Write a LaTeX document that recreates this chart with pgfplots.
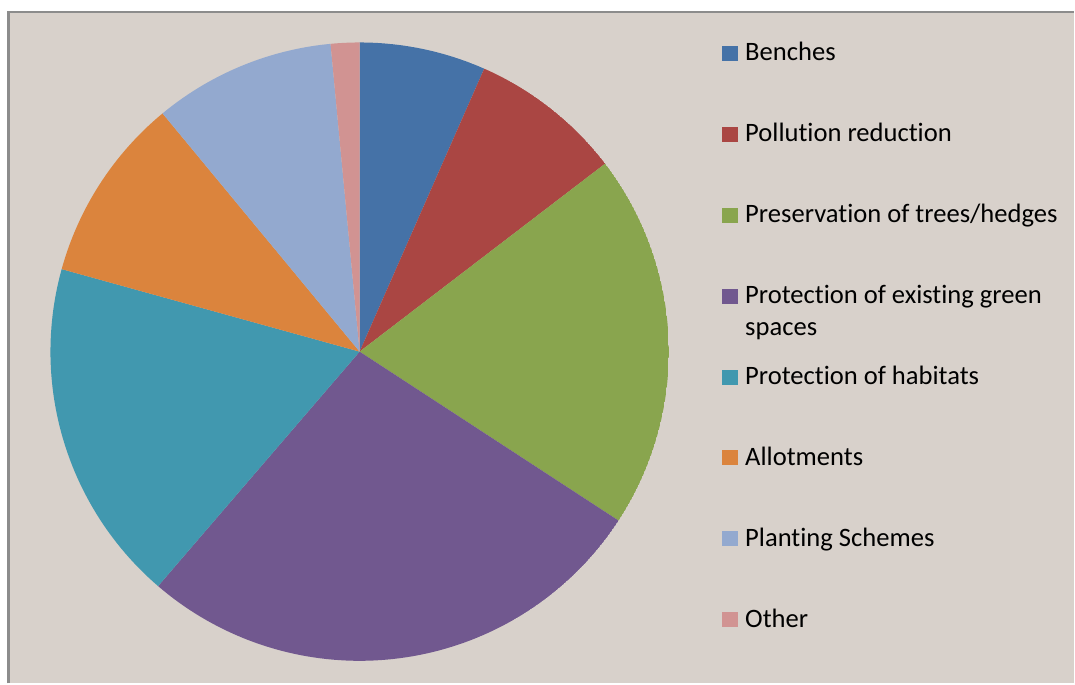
\documentclass[border=0pt]{standalone}
\usepackage{fontspec}
\setmainfont{Carlito}[Ligatures={NoCommon}]
\usepackage{pgfplots}
\pgfplotsset{compat=1.18}
\usepgfplotslibrary{polar}
\definecolor{bg}{HTML}{D8D1CB}
\definecolor{frame}{HTML}{8C8C8C}
\definecolor{cBen}{HTML}{4572A7}
\definecolor{cPol}{HTML}{AA4643}
\definecolor{cTre}{HTML}{89A54E}
\definecolor{cGre}{HTML}{71588F}
\definecolor{cHab}{HTML}{4198AF}
\definecolor{cAll}{HTML}{DB843D}
\definecolor{cPla}{HTML}{93A9CF}
\definecolor{cOth}{HTML}{D19392}
\begin{document}
\begin{tikzpicture}
% shares in percent
\pgfmathsetmacro\aA{90}
\pgfmathsetmacro\aB{\aA-3.6*6.6}  % Benches
\pgfmathsetmacro\aC{\aB-3.6*8.0}  % Pollution reduction
\pgfmathsetmacro\aD{\aC-3.6*19.6} % Preservation of trees/hedges
\pgfmathsetmacro\aE{\aD-3.6*27.1} % Protection of existing green spaces
\pgfmathsetmacro\aF{\aE-3.6*18.0} % Protection of habitats
\pgfmathsetmacro\aG{\aF-3.6*9.7}  % Allotments
\pgfmathsetmacro\aH{\aG-3.6*9.5}  % Planting Schemes
\pgfmathsetmacro\aI{\aH-3.6*1.5}  % Other
\fill[white] (0,0) rectangle (1075bp,684bp);
\fill[bg] (9.7bp,0) rectangle (1075bp,671bp);
\draw[frame,line width=2.2bp] (8.6bp,0) -- (8.6bp,672.1bp) -- (1075bp,672.1bp);
\begin{polaraxis}[
  at={(360bp,332bp)}, anchor=center,
  width=619bp, height=619bp, scale only axis,
  ymin=0, ymax=1, hide axis,
  legend style={at={(1.0856,1.0030)}, anchor=north west, draw=none, fill=none,
    inner sep=0pt, outer sep=0pt, column sep=0pt, row sep=55.0bp,
    font=\fontsize{26.7}{32}\selectfont,
    nodes={inner sep=0pt, outer sep=0pt, text height=20bp, text depth=6bp}},
  legend cell align=left,
  legend image code/.code={\fill[#1] (0bp,-7.3bp) rectangle (16.5bp,7.7bp); \path (23.5bp,0bp);},
]
\addplot[fill=cBen, draw=none, domain=\aB:\aA, samples=40] {1} -- (axis cs:0,0) -- cycle;
\addlegendentry{Benches}
\addplot[fill=cPol, draw=none, domain=\aC:\aB, samples=40] {1} -- (axis cs:0,0) -- cycle;
\addlegendentry{Pollution reduction}
\addplot[fill=cTre, draw=none, domain=\aD:\aC, samples=60] {1} -- (axis cs:0,0) -- cycle;
\addlegendentry{Preservation of trees/hedges}
\addplot[fill=cGre, draw=none, domain=\aE:\aD, samples=80] {1} -- (axis cs:0,0) -- cycle;
\addlegendentry{\smash{\begin{tabular}[t]{@{}l@{}}Protection of existing green\\spaces\end{tabular}}}
\addplot[fill=cHab, draw=none, domain=\aF:\aE, samples=60] {1} -- (axis cs:0,0) -- cycle;
\addlegendentry{Protection of habitats}
\addplot[fill=cAll, draw=none, domain=\aG:\aF, samples=40] {1} -- (axis cs:0,0) -- cycle;
\addlegendentry{Allotments}
\addplot[fill=cPla, draw=none, domain=\aH:\aG, samples=40] {1} -- (axis cs:0,0) -- cycle;
\addlegendentry{Planting Schemes}
\addplot[fill=cOth, draw=none, domain=\aI:\aH, samples=20] {1} -- (axis cs:0,0) -- cycle;
\addlegendentry{Other}
\end{polaraxis}
\end{tikzpicture}
\end{document}
